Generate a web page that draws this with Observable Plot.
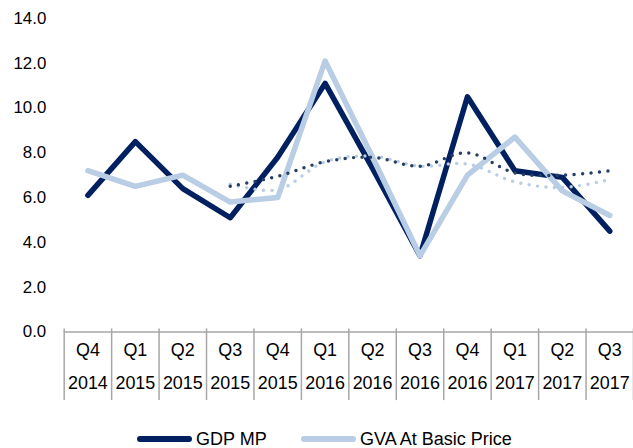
<!DOCTYPE html>
<html>
<head>
<meta charset="utf-8">
<script src="https://cdn.jsdelivr.net/npm/d3@7"></script>
<script src="https://cdn.jsdelivr.net/npm/@observablehq/plot@0.6"></script>
<style>
  html, body { margin: 0; padding: 0; background: #fff; overflow: hidden; width: 633px; height: 448px; }
  #chart svg { display: block; }
  #legend { position: relative; height: 22px; margin-top: 10px; font-family: "Liberation Sans", Arial, sans-serif; font-size: 18px; color: #000; }
  .item { position: absolute; top: 0; display: flex; align-items: center; height: 22px; white-space: nowrap; }
  .sw { width: 55px; height: 5.5px; border-radius: 3px; margin-right: 4px; }
</style>
</head>
<body>
<div id="chart"></div>
<div id="legend">
  <div class="item" style="left:137px"><span class="sw" style="background:#002060"></span>GDP MP</div>
  <div class="item" style="left:301px"><span class="sw" style="background:#b9cde5"></span>GVA At Basic Price</div>
</div>
<script>
const quarters = ["Q4","Q1","Q2","Q3","Q4","Q1","Q2","Q3","Q4","Q1","Q2","Q3"];
const years = ["2014","2015","2015","2015","2015","2016","2016","2016","2016","2017","2017","2017"];
const gdpMP = [6.1, 8.5, 6.4, 5.1, 7.8, 11.1, 7.3, 3.4, 10.5, 7.2, 6.9, 4.5];
const gvaBasic = [7.2, 6.5, 7.0, 5.8, 6.0, 12.1, 7.8, 3.4, 7.0, 8.7, 6.3, 5.2];
// 4-quarter moving-average trendlines (start at Q3 2015)
const gdpTrend = [6.5, 6.95, 7.6, 7.8, 7.4, 8.0, 7.1, 7.0, 7.2];
const gvaTrend = [6.6, 6.35, 7.6, 7.85, 7.4, 7.5, 6.7, 6.45, 6.8];
const yTicks = [0, 2, 4, 6, 8, 10, 12, 14];

const idx = d3.range(quarters.length);
const gdpRows = idx.map(i => ({x: i + 0.5, v: gdpMP[i]}));
const gvaRows = idx.map(i => ({x: i + 0.5, v: gvaBasic[i]}));
const gdpTr = gdpTrend.map((v, j) => ({x: j + 3.5, v}));
const gvaTr = gvaTrend.map((v, j) => ({x: j + 3.5, v}));

const NAVY = "#002060", LIGHT = "#b9cde5", NAVYDOT = "#263f63", GREY = "#a6a6a6";
const font = "Liberation Sans, Arial, sans-serif";

const chart = Plot.plot({
  width: 636,
  height: 420,
  marginLeft: 64,
  marginRight: 0,
  marginTop: 18,
  marginBottom: 87,
  style: {fontFamily: font, fontSize: "18px", color: "#000", background: "#fff"},
  x: {type: "linear", domain: [0, quarters.length], axis: null},
  y: {domain: [0, 14], axis: null},
  marks: [
    Plot.axisY(yTicks, {tickSize: 0, tickPadding: 18, tickFormat: d3.format(".1f"), label: null, fontSize: 17}),
    Plot.axisX(d3.range(quarters.length + 1), {tickSize: 72, dy: -3, tickFormat: () => "", label: null, stroke: GREY, strokeWidth: 1.5}),
    Plot.ruleY([0], {stroke: GREY, strokeWidth: 1.5}),
    Plot.text(idx, {x: i => i + 0.5, text: i => quarters[i], frameAnchor: "bottom", dy: 24, fontSize: 18}),
    Plot.text(idx, {x: i => i + 0.5, text: i => years[i], frameAnchor: "bottom", dy: 57, fontSize: 18}),
    Plot.line(gdpRows, {x: "x", y: "v", stroke: NAVY, strokeWidth: 5.5, strokeLinecap: "round", strokeLinejoin: "round"}),
    Plot.line(gvaRows, {x: "x", y: "v", stroke: LIGHT, strokeWidth: 5.5, strokeLinecap: "round", strokeLinejoin: "round"}),
    Plot.line(gvaTr, {x: "x", y: "v", curve: "catmull-rom", stroke: LIGHT, strokeWidth: 3.5, strokeDasharray: "0 8.5", strokeLinecap: "round"}),
    Plot.line(gdpTr, {x: "x", y: "v", curve: "catmull-rom", stroke: NAVYDOT, strokeWidth: 3.5, strokeDasharray: "0 8.5", strokeLinecap: "round"})
  ]
});
document.getElementById("chart").appendChild(chart);
</script>
</body>
</html>
